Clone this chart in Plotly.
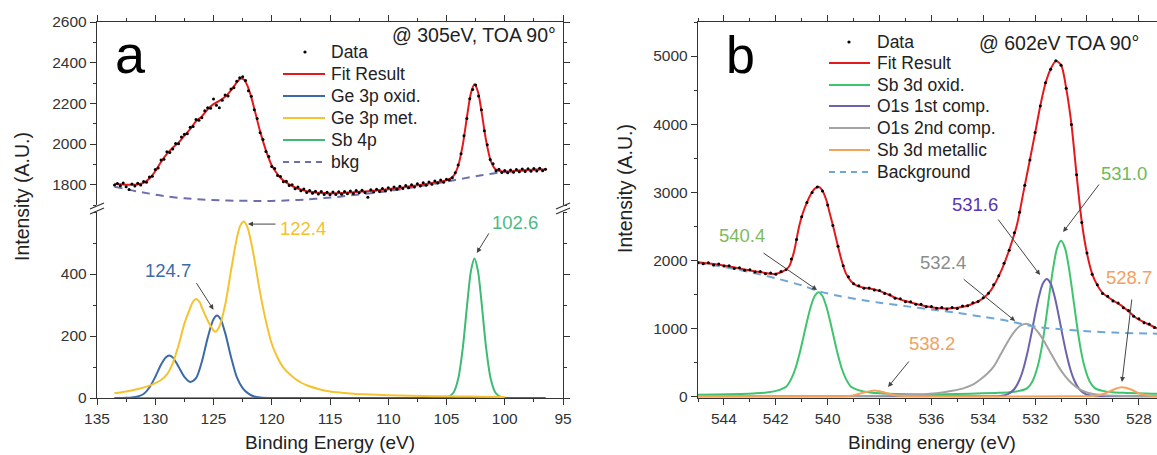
import plotly.graph_objects as go

W, H = 1157, 455

# ---------------- Panel a : Ge 3p / Sb 4p (305 eV) ----------------
a_xticks = [135, 130, 125, 120, 115, 110, 105, 100, 95]
a_top_yticks = [1800, 2000, 2200, 2400, 2600]
a_bot_yticks = [0, 200, 400]

a_data = [(133.5,1798),(133.25,1806),(133.0,1795),(132.75,1808),(132.5,1790),(132.25,1776),(132.0,1803),(131.75,1794),
          (131.5,1807),(131.25,1798),(131.0,1815),(130.75,1812),(130.5,1838),(130.25,1842),(130.0,1874),(129.75,1882),
          (129.5,1921),(129.25,1925),(129.0,1962),(128.75,1958),(128.5,1975),(128.25,2003),(128.0,2001),(127.75,2035),
          (127.5,2048),(127.25,2050),(127.0,2082),(126.75,2086),(126.5,2120),(126.25,2117),(126.0,2129),(125.75,2164),
          (125.5,2178),(125.25,2176),(125.0,2221),(124.75,2190),(124.5,2178),(124.25,2215),(124.0,2241),(123.75,2236),
          (123.5,2271),(123.25,2277),(123.0,2309),(122.75,2326),(122.5,2331),(122.25,2312),(122.0,2262),(121.75,2235),
          (121.5,2168),(121.25,2125),(121.0,2055),(120.75,2022),(120.5,1963),(120.25,1938),(120.0,1889),(119.75,1879),
          (119.5,1845),(119.25,1840),(119.0,1814),(118.75,1817),(118.5,1796),(118.25,1799),(118.0,1780),(117.75,1788),
          (117.5,1770),(117.25,1779),(117.0,1762),(116.75,1771),(116.5,1758),(116.25,1768),(116.0,1754),(115.75,1766),
          (115.5,1752),(115.25,1763),(115.0,1750),(114.75,1764),(114.5,1752),(114.25,1765),(114.0,1753),(113.75,1767),
          (113.5,1755),(113.25,1769),(113.0,1757),(112.75,1771),(112.5,1760),(112.25,1772),(112.0,1762),(111.75,1738),
          (111.5,1775),(111.25,1764),(111.0,1778),(110.75,1767),(110.5,1781),(110.25,1770),(110.0,1785),(109.75,1774),
          (109.5,1789),(109.25,1778),(109.0,1792),(108.75,1781),(108.5,1796),(108.25,1785),(108.0,1800),(107.75,1789),
          (107.5,1804),(107.25,1793),(107.0,1809),(106.75,1797),(106.5,1813),(106.25,1802),(106.0,1818),(105.75,1808),
          (105.5,1823),(105.25,1812),(105.0,1827),(104.75,1824),(104.5,1834),(104.25,1858),(104.0,1897),(103.75,1952),
          (103.5,2040),(103.25,2126),(103.0,2222),(102.75,2268),(102.5,2290),(102.25,2236),(102.0,2168),(101.75,2065),
          (101.5,1996),(101.25,1924),(101.0,1903),(100.75,1869),(100.5,1876),(100.25,1860),(100.0,1870),(99.75,1858),
          (99.5,1872),(99.25,1861),(99.0,1874),(98.75,1863),(98.5,1877),(98.25,1865),(98.0,1878),(97.75,1866),
          (97.5,1880),(97.25,1867),(97.0,1881),(96.75,1868),(96.5,1876)]

a_fit = [(133.5,1805),(133,1802),(132.5,1800),(132,1799),(131.5,1801),(131,1809),(130.5,1830),(130,1866),(129.5,1912),
         (129,1951),(128.5,1982),(128,2007),(127.5,2041),(127,2073),(126.5,2112),(126,2136),(125.5,2170),(125,2196),
         (124.5,2212),(124,2232),(123.5,2264),(123,2303),(122.7,2321),(122.4,2317),(122.1,2288),(121.8,2238),(121.5,2175),
         (121,2062),(120.5,1969),(120,1895),(119.5,1851),(119,1820),(118.5,1801),(118,1786),(117.5,1776),(117,1768),
         (116.5,1764),(116,1760),(115.5,1759),(115,1757),(114.5,1758),(114,1759),(113.5,1761),(113,1763),(112.5,1765),
         (112,1767),(111.5,1769),(111,1771),(110.5,1775),(110,1778),(109.5,1782),(109,1785),(108.5,1789),(108,1793),
         (107.5,1797),(107,1801),(106.5,1806),(106,1811),(105.5,1816),(105,1821),(104.4,1843),(104.0,1892),(103.6,1997),
         (103.2,2150),(102.9,2251),(102.6,2294),(102.3,2257),(102.0,2162),(101.6,2016),(101.2,1917),(100.8,1876),
         (100.2,1865),(99.5,1865),(99,1868),(98.5,1870),(98,1872),(97.5,1873),(97,1874),(96.5,1875)]

a_bkg = [(133.5,1790),(132,1772),(130.5,1756),(129,1742),(127.5,1733),(126,1727),(124.5,1723),(123,1721),(121.5,1720),
         (120,1720),(118.5,1723),(117,1727),(115.5,1734),(114,1742),(112.5,1752),(111,1761),(109.5,1773),(108,1786),
         (106.5,1800),(105,1815),(103.5,1831),(102,1846),(100.5,1859),(99,1868),(97.5,1873),(96.5,1875)]

ge3p_oxid = [(133.5,0),(132.5,1),(132,2),(131.5,5),(131,13),(130.5,34),(130,68),(129.5,108),(129.1,131),(128.8,137),
             (128.5,131),(128,101),(127.5,68),(127,52),(126.5,64),(126,117),(125.5,194),(125,254),(124.7,266),(124.4,255),
             (124,210),(123.5,133),(123,67),(122.5,32),(122,14),(121.5,5),(121,2),(120,0),(118,0),(110,0),(100,0),(96.5,0)]

ge3p_met = [(133.5,15),(132.5,21),(131.5,29),(130.5,40),(130,48),(129.5,58),(129,76),(128.5,112),(128,170),(127.5,240),
            (127,290),(126.8,308),(126.5,319),(126.2,310),(126,292),(125.5,250),(125,218),(124.8,214),(124.5,230),(124,300),
            (123.5,410),(123,515),(122.7,556),(122.4,569),(122.1,552),(121.8,508),(121.5,450),(121,340),(120.5,248),
            (120,175),(119.5,130),(119,98),(118.5,78),(118,62),(117.5,50),(117,41),(116,29),(115,21),(114,17),(113,14),
            (112,12),(110,9),(108,7),(106,6),(104,5),(102,4),(100,3)]

sb4p = [(133.5,0),(110,0),(106,0),(105,1),(104.4,17),(104.0,61),(103.6,162),(103.2,312),(102.9,410),(102.6,450),
        (102.3,410),(102.0,312),(101.6,162),(101.2,61),(100.8,17),(100.2,1),(99,0),(96.5,0)]

# ---------------- Panel b : Sb 3d / O 1s (602 eV) ----------------
b_xticks = [544, 542, 540, 538, 536, 534, 532, 530, 528]
b_yticks = [0, 1000, 2000, 3000, 4000, 5000]

b_data = [(545.0,1963),(544.8,1948),(544.6,1962),(544.4,1931),(544.2,1944),(544.0,1913),(543.8,1919),(543.6,1879),
          (543.4,1889),(543.2,1853),(543.0,1861),(542.8,1826),(542.6,1833),(542.4,1801),(542.2,1811),(542.0,1792),
          (541.8,1833),(541.6,1862),(541.4,2016),(541.2,2304),(541.0,2639),(540.8,2846),(540.6,2995),(540.4,3075),
          (540.2,3015),(540.0,2812),(539.8,2508),(539.6,2205),(539.4,1917),(539.2,1756),(539.0,1652),(538.8,1626),
          (538.6,1587),(538.4,1591),(538.2,1561),(538.0,1554),(537.8,1511),(537.6,1494),(537.4,1441),(537.2,1434),
          (537.0,1391),(536.8,1389),(536.6,1351),(536.4,1351),(536.2,1317),(536.0,1319),(535.8,1293),(535.6,1303),
          (535.4,1283),(535.2,1305),(535.0,1291),(534.8,1327),(534.6,1329),(534.4,1373),(534.2,1394),(534.0,1449),
          (533.8,1513),(533.6,1638),(533.4,1772),(533.2,1956),(533.0,2145),(532.8,2402),(532.6,2706),(532.4,3102),
          (532.2,3474),(532.0,3876),(531.8,4264),(531.6,4606),(531.4,4804),(531.2,4931),(531.0,4864),(530.8,4526),
          (530.6,3994),(530.4,3256),(530.2,2554),(530.0,2107),(529.8,1794),(529.6,1638),(529.4,1512),(529.2,1469),
          (529.0,1401),(528.8,1372),(528.6,1302),(528.4,1259),(528.2,1175),(528.0,1138),(527.8,1082),(527.6,1061),
          (527.4,1011)]

b_fit = [(545,1970),(544.5,1948),(544,1922),(543.5,1885),(543,1850),(542.5,1818),(542.2,1800),(542,1800),(541.75,1830),
         (541.5,1900),(541.3,2120),(541.1,2500),(540.95,2700),(540.8,2850),(540.65,2970),(540.5,3050),(540.35,3078),
         (540.2,3020),(540.05,2880),(539.9,2660),(539.75,2440),(539.6,2200),(539.45,1980),(539.3,1810),(539.1,1690),
         (538.9,1630),(538.6,1595),(538.2,1570),(537.8,1520),(537.4,1450),(537,1400),(536.5,1350),(536,1310),
         (535.5,1290),(535,1300),(534.5,1345),(534,1440),(533.7,1560),(533.3,1850),(533.0,2150),(532.7,2520),
         (532.45,3000),(532.2,3480),(532.0,3870),(531.8,4270),(531.6,4600),(531.4,4810),(531.2,4925),(531.0,4870),
         (530.8,4520),(530.6,4000),(530.4,3250),(530.2,2560),(530.0,2100),(529.8,1800),(529.6,1630),(529.4,1520),
         (529.2,1460),(529.0,1410),(528.7,1340),(528.4,1250),(528.1,1150),(527.7,1070),(527.3,1000)]

b_bkg = [(545,1960),(544,1900),(543,1825),(542,1735),(541,1630),(540.3,1540),(539.5,1470),(538.5,1405),(538,1375),
         (537,1325),(536,1275),(535,1225),(534,1168),(533,1105),(532.5,1060),(532,1025),(531.5,1000),(531,985),
         (530.5,970),(530,957),(529,937),(528,925),(527.3,920)]

sb3d_oxid = [(545,22),(544.35,27),(543.35,35),(542.85,42),(542.35,55),(541.85,95),(541.6,140),(541.4,260),(541.25,401),
             (541.1,604),(540.95,844),(540.8,1095),(540.65,1319),(540.5,1474),(540.35,1530),(540.2,1474),(540.05,1319),
             (539.9,1095),(539.75,844),(539.6,604),(539.45,401),(539.3,260),(539.1,140),(538.85,95),(538.35,55),
             (537.85,42),(537.35,35),(536.35,28),(535.5,30),(534.5,38),(533.5,50),(533,60),(532.6,80),(532.3,120),
             (532.1,220),(531.9,440),(531.75,708),(531.6,1079),(531.45,1499),(531.3,1895),(531.15,2180),(531.0,2285),
             (530.85,2180),(530.7,1895),(530.55,1499),(530.4,1079),(530.25,708),(530.1,440),(529.9,220),(529.7,120),
             (529.4,80),(529.0,60),(528.5,50),(527.5,38),(527.3,36)]

o1s_1st = [(545,0),(534,0),(533.35,6),(533.05,32),(532.8,107),(532.6,243),(532.45,408),(532.3,635),(532.15,909),
           (532.0,1203),(531.85,1470),(531.7,1658),(531.55,1725),(531.4,1658),(531.25,1470),(531.1,1203),(530.95,909),
           (530.8,635),(530.65,408),(530.5,243),(530.3,107),(530.05,32),(529.75,6),(529.2,0),(527.3,0)]

o1s_2nd = [(545,0),(539,3),(537.5,10),(536.5,25),(535.8,44),(535.2,80),(534.77,117),(534.35,184),(534.1,250),
           (533.85,330),(533.6,436),(533.35,602),(533.1,773),(532.85,925),(532.6,1029),(532.35,1067),(532.1,1029),
           (531.85,925),(531.6,773),(531.35,602),(531.1,436),(530.85,300),(530.6,194),(530.35,118),(530.1,70),
           (529.85,40),(529.35,15),(528.5,5),(527.3,2)]

sb3d_met = [(545,0),(539.6,0),(539.3,2),(539.1,8),(538.9,25),(538.6,55),(538.2,85),(537.8,55),(537.4,15),(537.0,3),
            (536.5,0),(530.2,0),(529.8,3),(529.5,20),(529.2,60),(528.9,110),(528.66,132),(528.3,100),(528.0,45),
            (527.6,10),(527.3,2)]

# ---------------- styling ----------------
FONT = "Arial, Liberation Sans, sans-serif"
AX = "#333333"
RED = "#e31a1c"
C_GEOX = "#3b6aa8"
C_GEMET = "#f5c330"
C_SB4P = "#3dbb74"
C_BKGA = "#6b6fae"
C_SBOX = "#3ec46d"
C_O1 = "#6c63ad"
C_O2 = "#a3a3a3"
C_SBMET = "#f5a25d"
C_BKGB = "#6fa6d8"


def xs(pts):
    return [p[0] for p in pts]


def ys(pts):
    return [p[1] for p in pts]


def px(x):
    return x / W


def py(y):
    return 1 - y / H


fig = go.Figure()


def line(pts, color, xa, ya, dash=None, width=2):
    fig.add_trace(go.Scatter(x=xs(pts), y=ys(pts), mode="lines", xaxis=xa, yaxis=ya,
                             line=dict(color=color, width=width, dash=dash, shape="spline", smoothing=0.8),
                             hoverinfo="skip"))


def dots(pts, xa, ya):
    fig.add_trace(go.Scatter(x=xs(pts), y=ys(pts), mode="markers", xaxis=xa, yaxis=ya,
                             marker=dict(color="black", size=3), hoverinfo="skip"))


# panel a bottom (components)
line(sb4p, C_SB4P, "x", "y")
line(ge3p_oxid, C_GEOX, "x", "y")
line(ge3p_met, C_GEMET, "x", "y")
# panel a top
line(a_bkg, C_BKGA, "x2", "y2", dash="8px,6px")
line(a_fit, RED, "x2", "y2")
dots(a_data, "x2", "y2")
# panel b
line(sb3d_oxid, C_SBOX, "x3", "y3")
line(o1s_1st, C_O1, "x3", "y3")
line(o1s_2nd, C_O2, "x3", "y3")
line(sb3d_met, C_SBMET, "x3", "y3")
line(b_bkg, C_BKGB, "x3", "y3", dash="8px,6px")
line(b_fit, RED, "x3", "y3")
dots(b_data, "x3", "y3")

tickfont = dict(family=FONT, size=15.5, color=AX)
common = dict(showline=True, linecolor=AX, linewidth=1.4, showgrid=False, zeroline=False, automargin=False,
              ticks="outside", ticklen=6, tickwidth=1.3, tickcolor=AX, tickfont=tickfont)


def minor(d):
    return dict(dtick=d, tick0=0, ticks="outside", ticklen=3, tickwidth=1.2, tickcolor=AX)


a_xdom = [px(97), px(563)]
fig.update_layout(
    template="none",
    width=W, height=H, autosize=False,
    margin=dict(l=0, r=0, t=0, b=0, pad=0),
    paper_bgcolor="white", plot_bgcolor="white",
    showlegend=False,
    xaxis=dict(domain=a_xdom, anchor="y", range=[135, 95], tickvals=a_xticks, minor=minor(2.5), **common),
    yaxis=dict(domain=[py(398), py(212)], anchor="x", range=[0, 600], tickvals=a_bot_yticks, mirror="ticks",
               minor=minor(100), **common),
    xaxis2=dict(domain=a_xdom, anchor="y2", range=[135, 95], side="top", showticklabels=False, tickvals=a_xticks,
                minor=minor(2.5), **common),
    yaxis2=dict(domain=[py(205), py(22)], anchor="x2", range=[1700, 2600], tickvals=a_top_yticks, mirror="ticks",
                minor=minor(100), **common),
    xaxis3=dict(domain=[px(698), 1.0], anchor="y3", range=[545, 527.3], tickvals=b_xticks, mirror="ticks",
                minor=minor(1), **common),
    yaxis3=dict(domain=[py(398), py(22)], anchor="x3", range=[-25, 5500], tickvals=b_yticks,
                minor=minor(500), **common),
)

shapes = []
annos = []


def text(t, x, y, size, color="#222", xanchor="center", angle=0):
    annos.append(dict(text=t, xref="paper", yref="paper", x=px(x), y=py(y), xanchor=xanchor, yanchor="middle",
                      showarrow=False, textangle=angle, font=dict(family=FONT, size=size, color=color)))


# axis break marks on panel a
for xc in (97, 563):
    for yc in (206, 211):
        shapes.append(dict(type="line", xref="paper", yref="paper", x0=px(xc - 7), y0=py(yc + 3),
                           x1=px(xc + 7), y1=py(yc - 3), line=dict(color=AX, width=1.3)))


def legend_block(items, x0, x1, xt, rows, dotx):
    for (label, color, kind), yr in zip(items, rows):
        if kind == "dot":
            shapes.append(dict(type="circle", xref="paper", yref="paper", x0=px(dotx - 1.6), x1=px(dotx + 1.6),
                               y0=py(yr + 1.6), y1=py(yr - 1.6), fillcolor="black", line=dict(width=0)))
        else:
            shapes.append(dict(type="line", xref="paper", yref="paper", x0=px(x0), x1=px(x1), y0=py(yr), y1=py(yr),
                               line=dict(color=color, width=2, dash="6px,5px" if kind == "dash" else None)))
        text(label, xt, yr, 17.5, xanchor="left")


legend_a = [("Data", "black", "dot"), ("Fit Result", RED, "line"), ("Ge 3p oxid.", C_GEOX, "line"),
            ("Ge 3p met.", C_GEMET, "line"), ("Sb 4p", C_SB4P, "line"), ("bkg", C_BKGA, "dash")]
legend_block(legend_a, 283, 325, 329, [52, 74, 96, 118, 140, 162], 305)

legend_b = [("Data", "black", "dot"), ("Fit Result", RED, "line"), ("Sb 3d oxid.", C_SBOX, "line"),
            ("O1s 1st comp.", C_O1, "line"), ("O1s 2nd comp.", C_O2, "line"),
            ("Sb 3d metallic", C_SBMET, "line"), ("Background", C_BKGB, "dash")]
legend_block(legend_b, 829, 870, 875, [42, 63, 85, 106, 128, 150, 172], 849)

# panel letters and conditions
text("a", 130, 54, 54, color="black")
text("b", 740, 55, 52, color="black")
text("@ 305eV, TOA 90°", 558, 35, 19.5, xanchor="right")
text("@ 602eV TOA 90°", 977, 43, 19.5, xanchor="left")

# axis titles
text("Intensity (A.U.)", 22, 197, 19.5, angle=-90)
text("Intensity (A.U.)", 625, 189, 19.5, angle=-90)
text("Binding Energy (eV)", 330, 442, 19)
text("Binding energy (eV)", 932, 442, 19)

# peak labels
peak_labels = [("124.7", "#3d6ba8", 168, 270), ("122.4", "#f2c12e", 303, 228), ("102.6", "#4cbb7f", 515, 222),
               ("540.4", "#7dbb5e", 742, 235), ("538.2", "#f2a160", 932, 343), ("532.4", "#8c8c8c", 943, 262),
               ("531.6", "#5a36b0", 975, 205), ("531.0", "#6fba55", 1124, 173), ("528.7", "#f2a160", 1129, 277)]
for t, c, x, y in peak_labels:
    text(t, x, y, 18.5, color=c)

# arrows: head in data coords, tail offset in pixels
arrows = [("x", "y", 125.0, 285, -18, -28), ("x", "y", 122.04, 561, 29, 0), ("x", "y", 102.4, 468, 13, -21),
          ("x3", "y3", 540.41, 1562, -55, -38), ("x3", "y3", 537.67, 137, 22, -27),
          ("x3", "y3", 532.77, 1106, -53, -43), ("x3", "y3", 531.81, 1782, -43, -57),
          ("x3", "y3", 530.92, 2414, 37, -49), ("x3", "y3", 528.65, 210, 10, -84)]
for xr, yr, x, y, ax, ay in arrows:
    annos.append(dict(text="", xref=xr, yref=yr, x=x, y=y, ax=ax, ay=ay, axref="pixel", ayref="pixel",
                      showarrow=True, arrowhead=2, arrowsize=1, arrowwidth=1, arrowcolor="#444"))

fig.update_layout(shapes=shapes, annotations=annos)
fig.write_html("out.html")
